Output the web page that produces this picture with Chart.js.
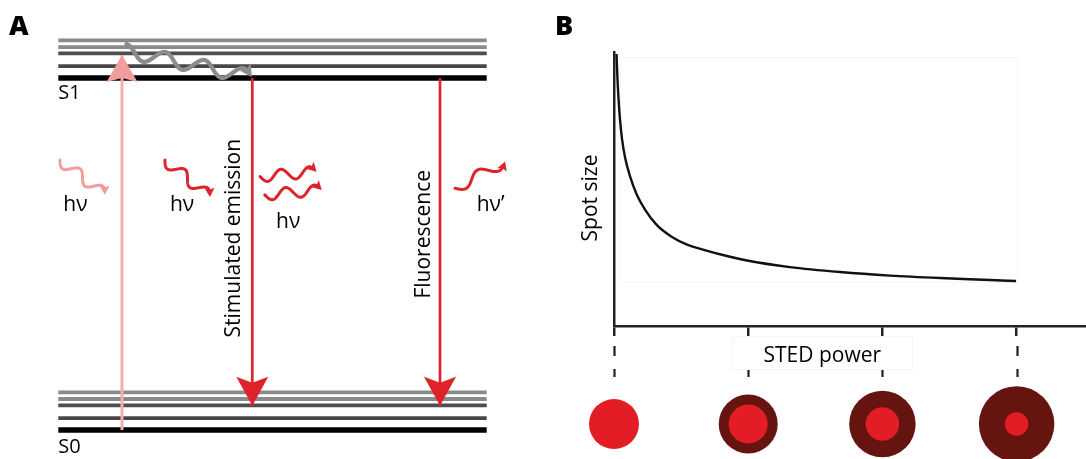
<!DOCTYPE html>
<html><head><meta charset="utf-8">
<script src="https://cdn.jsdelivr.net/npm/chart.js@4.4.1/dist/chart.umd.min.js"></script>
<style>
html,body{margin:0;padding:0;background:#fff;width:1086px;height:459px;overflow:hidden}
#a{position:absolute;left:0;top:0}
#b{position:absolute;left:545px;top:0}
</style></head><body>
<canvas id="a" width="545" height="459"></canvas>
<canvas id="b" width="541" height="459"></canvas>
<script>
// ================= Panel A: Jablonski diagram (energy in units of S1-S0 gap) =================
const stateNames = ['S0', 'S1'];
const stateEnergy = [0, 1];
const vibOffsets = [0, 0.034, 0.070, 0.088, 0.107];
const levelSpan = [0, 100];

const transitionNames = ['Absorption', 'Stimulated emission', 'Fluorescence'];
const transitionX = [14.87, 45.28, 89.1];
const transitionFrom = [0, 1, 1];
const transitionTo = [1.065, 0.069, 0.069];

// vibrational relaxation (S1 hot -> S1 ground)
const relaxFrom = [15.57, 1.077];
const relaxTo = [45.2, 1.003];

// photons (start x, start E, end x, end E)
const photonX0 = [0.4, 24.9, 47.1, 48.2, 92.6];
const photonE0 = [0.767, 0.767, 0.720, 0.668, 0.687];
const photonX1 = [10.9, 35.4, 60.3, 61.5, 104.3];
const photonE1 = [0.668, 0.662, 0.734, 0.682, 0.763];
const photonLabels = ['hν', 'hν', 'hν', 'hν’'];
const photonLabelX = [1.17, 26.07, 50.82, 97.66];
const photonLabelE = [0.621, 0.621, 0.573, 0.621];

// ================= Panel B: spot size vs STED power =================
const stedPower = [0.019, 0.026, 0.034, 0.045, 0.060, 0.082, 0.119, 0.171, 0.231, 0.318, 0.432, 0.544, 0.663, 0.812, 0.991, 1.311, 1.684, 2.057, 2.429, 2.802, 2.996];
const spotSize  = [0.993, 0.900, 0.828, 0.752, 0.682, 0.616, 0.547, 0.478, 0.425, 0.369, 0.325, 0.297, 0.279, 0.259, 0.239, 0.215, 0.197, 0.184, 0.175, 0.168, 0.164];
const powerTicks = [0, 1, 2, 3];
const psfSpot  = [1.00, 0.78, 0.67, 0.47];   // effective fluorescent spot diameter (relative)
const psfDonut = [0.00, 1.18, 1.33, 1.51];   // depletion donut outer diameter (relative)

// ---------------- styles ----------------
const RED = '#e0222a', PINK = '#f29d9d', PINK_LINE = '#f4aeae', WAVE_GRAY = '#8c8c8c';
const TXT = '#000000';
const FONT = '"Open Sans", "Noto Sans", sans-serif';
const levelColor = ['#000000', '#474747', '#4e4e4e', '#8a8a8a', '#8a8a8a'];
const levelWidth = [5.5, 3.8, 3.8, 3.8, 3.8];

function arrowHead(ctx, tipX, tipY, ux, uy, L, W, notch, color) {
  const px = -uy, py = ux;
  const bx = tipX - ux * L, by = tipY - uy * L;
  ctx.fillStyle = color;
  ctx.beginPath();
  ctx.moveTo(tipX, tipY);
  ctx.lineTo(bx + px * W, by + py * W);
  ctx.lineTo(tipX - ux * (L - notch), tipY - uy * (L - notch));
  ctx.lineTo(bx - px * W, by - py * W);
  ctx.closePath();
  ctx.fill();
}

function wave(ctx, p0, p1, N, A, phase, color, lw, hl, hw) {
  const dx = p1.x - p0.x, dy = p1.y - p0.y, L = Math.hypot(dx, dy);
  const ux = dx / L, uy = dy / L, px = -uy, py = ux;
  const steps = 120, pts = [];
  for (let k = 0; k <= steps; k++) {
    const t = k / steps;
    const o = A * Math.sin(2 * Math.PI * (N * t + phase));
    pts.push([p0.x + dx * t + px * o, p0.y + dy * t + py * o]);
  }
  const tip = pts[steps], prev = pts[steps - 5];
  let ex = tip[0] - prev[0], ey = tip[1] - prev[1];
  const el = Math.hypot(ex, ey); ex /= el; ey /= el;
  let last = steps;
  while (last > 0 && Math.hypot(pts[last][0] - tip[0], pts[last][1] - tip[1]) < hl * 0.6) last--;
  ctx.save();
  ctx.strokeStyle = color; ctx.lineWidth = lw; ctx.lineCap = 'round'; ctx.lineJoin = 'round';
  ctx.beginPath();
  for (let k = 0; k <= last; k++) { if (k) ctx.lineTo(pts[k][0], pts[k][1]); else ctx.moveTo(pts[k][0], pts[k][1]); }
  ctx.stroke();
  arrowHead(ctx, tip[0], tip[1], ex, ey, hl, hw, hl * 0.2, color);
  ctx.restore();
}

// ---------------- Panel A chart ----------------
const aDatasets = [];
stateEnergy.forEach((E, s) => {
  vibOffsets.forEach((off, v) => {
    aDatasets.push({
      data: [{ x: levelSpan[0], y: E + off }, { x: levelSpan[1], y: E + off }],
      showLine: true, borderColor: levelColor[v], borderWidth: levelWidth[v],
      pointRadius: 0, borderCapStyle: 'butt', order: 10, clip: false
    });
  });
});
transitionX.forEach((x, i) => {
  aDatasets.push({
    data: [{ x: x, y: stateEnergy[transitionFrom[i]] }, { x: x, y: transitionTo[i] }],
    showLine: true, borderColor: i === 0 ? PINK_LINE : RED, borderWidth: i === 0 ? 3 : 2.7,
    pointRadius: 0, borderCapStyle: 'butt', order: 1, clip: false
  });
});

const panelAPlugin = {
  id: 'panelA',
  afterDatasetsDraw(chart) {
    const ctx = chart.ctx, xs = chart.scales.x, ys = chart.scales.y;
    const P = (x, e) => ({ x: xs.getPixelForValue(x), y: ys.getPixelForValue(e) });
    ctx.save();
    transitionX.forEach((x, i) => {
      const a = P(x, stateEnergy[transitionFrom[i]]), b = P(x, transitionTo[i]);
      const dx = b.x - a.x, dy = b.y - a.y, l = Math.hypot(dx, dy);
      if (i === 0) arrowHead(ctx, b.x, b.y, dx / l, dy / l, 27, 15.5, 4, PINK);
      else arrowHead(ctx, b.x, b.y, dx / l, dy / l, 29, 16, 6, RED);
    });
    wave(ctx, P(relaxFrom[0], relaxFrom[1]), P(relaxTo[0], relaxTo[1]), 3.25, 7, -0.25, WAVE_GRAY, 4.2, 12, 6.5);
    const pN = [2, 2, 2, 2, 1.5];
    photonX0.forEach((x0, i) => {
      const col = i === 0 ? PINK : RED;
      wave(ctx, P(x0, photonE0[i]), P(photonX1[i], photonE1[i]), pN[i], 5.5, 0, col, 3, 9, 5);
    });
    ctx.fillStyle = TXT;
    ctx.textBaseline = 'alphabetic';
    ctx.textAlign = 'left';
    ctx.font = '20px ' + FONT;
    const s1 = P(levelSpan[0], 0.94), s0 = P(levelSpan[0], -0.065);
    ctx.fillText(stateNames[1], s1.x, s1.y);
    ctx.fillText(stateNames[0], s0.x, s0.y);
    ctx.font = '21px ' + FONT;
    photonLabels.forEach((t, i) => {
      const p = P(photonLabelX[i], photonLabelE[i]);
      ctx.fillText(t, p.x, p.y);
    });
    const rot = (t, x, e) => {
      const p = P(x, e);
      ctx.save(); ctx.translate(p.x, p.y); ctx.rotate(-Math.PI / 2);
      ctx.textAlign = 'center'; ctx.fillText(t, 0, 0); ctx.restore();
    };
    rot(transitionNames[1], 42.41, 0.545);
    rot(transitionNames[2], 86.65, 0.556);
    ctx.font = '800 27px ' + FONT;
    ctx.fillText('A', 9, 35);
    ctx.restore();
  }
};

new Chart(document.getElementById('a'), {
  type: 'scatter',
  data: { datasets: aDatasets },
  options: {
    responsive: false, animation: false, devicePixelRatio: 1,
    layout: { padding: 0 },
    plugins: { legend: { display: false }, tooltip: { enabled: false } },
    scales: {
      x: { type: 'linear', display: false, min: -13.61, max: 113.61 },
      y: { type: 'linear', display: false, min: -0.0824, max: 1.2216 }
    }
  },
  plugins: [panelAPlugin]
});

// ---------------- Panel B chart ----------------
const AXIS = '#222222';
const panelBPlugin = {
  id: 'panelB',
  beforeDatasetsDraw(chart) {
    const ctx = chart.ctx, xs = chart.scales.x, ys = chart.scales.y;
    ctx.save();
    ctx.strokeStyle = '#f6f6f6'; ctx.lineWidth = 1;
    const l = xs.getPixelForValue(0.045), r = xs.getPixelForValue(3.0);
    const t = ys.getPixelForValue(0.982), b = ys.getPixelForValue(0.161);
    ctx.strokeRect(Math.round(l) + 0.5, Math.round(t) + 0.5, Math.round(r - l), Math.round(b - t));
    ctx.restore();
  },
  afterDraw(chart) {
    const ctx = chart.ctx, xs = chart.scales.x, ca = chart.chartArea;
    ctx.save();
    ctx.strokeStyle = AXIS; ctx.lineWidth = 2.2; ctx.setLineDash([10, 13]);
    powerTicks.forEach(v => {
      const x = Math.round(xs.getPixelForValue(v)) + 0.5;
      ctx.beginPath(); ctx.moveTo(x, ca.bottom + 20); ctx.lineTo(x, ca.bottom + 51); ctx.stroke();
    });
    ctx.setLineDash([]);
    const bl = xs.getPixelForValue(0.88), br = xs.getPixelForValue(2.224);
    ctx.fillStyle = '#ffffff';
    ctx.fillRect(bl, ca.bottom + 10, br - bl, 33);
    ctx.strokeStyle = '#f5f5f5'; ctx.lineWidth = 1;
    ctx.strokeRect(Math.round(bl) + 0.5, ca.bottom + 10.5, Math.round(br - bl), 33);
    ctx.fillStyle = TXT; ctx.font = '21px ' + FONT;
    ctx.textAlign = 'center'; ctx.textBaseline = 'alphabetic';
    ctx.fillText('STED power', (bl + br) / 2, ca.bottom + 36);
    ctx.save();
    ctx.translate(ca.left - 17, 198); ctx.rotate(-Math.PI / 2);
    ctx.fillText('Spot size', 0, 0);
    ctx.restore();
    const unit = 12.5;
    powerTicks.forEach((v, i) => {
      const cx = xs.getPixelForValue(v), cy = ca.bottom + 98;
      if (psfDonut[i] > 0) {
        ctx.fillStyle = '#65140f';
        ctx.beginPath(); ctx.arc(cx, cy, psfDonut[i] * unit * 2, 0, Math.PI * 2); ctx.fill();
      }
      ctx.fillStyle = '#e31d25';
      ctx.beginPath(); ctx.arc(cx, cy, psfSpot[i] * unit * 2, 0, Math.PI * 2); ctx.fill();
    });
    ctx.fillStyle = TXT; ctx.textAlign = 'left'; ctx.font = '800 27px ' + FONT;
    ctx.fillText('B', 10, 35);
    ctx.restore();
  }
};

new Chart(document.getElementById('b'), {
  type: 'line',
  data: {
    datasets: [{
      data: stedPower.map((x, i) => ({ x: x, y: spotSize[i] })),
      borderColor: '#111111', borderWidth: 2.4, pointRadius: 0,
      cubicInterpolationMode: 'monotone', fill: false
    }]
  },
  options: {
    responsive: false, animation: false, devicePixelRatio: 1,
    layout: { padding: { left: 69, top: 52, right: 0, bottom: 123 } },
    plugins: { legend: { display: false }, tooltip: { enabled: false } },
    scales: {
      x: {
        type: 'linear', min: 0, max: 3.517,
        afterBuildTicks: s => { s.ticks = powerTicks.map(v => ({ value: v })); },
        ticks: { display: false },
        grid: { display: true, drawOnChartArea: false, drawTicks: true, tickLength: 10, color: AXIS, lineWidth: 2.5 },
        border: { display: true, color: AXIS, width: 2.5 }
      },
      y: {
        type: 'linear', min: 0, max: 1,
        ticks: { display: false },
        grid: { display: false, drawTicks: false },
        border: { display: true, color: AXIS, width: 2.5 }
      }
    }
  },
  plugins: [panelBPlugin]
});
</script>
</body></html>
